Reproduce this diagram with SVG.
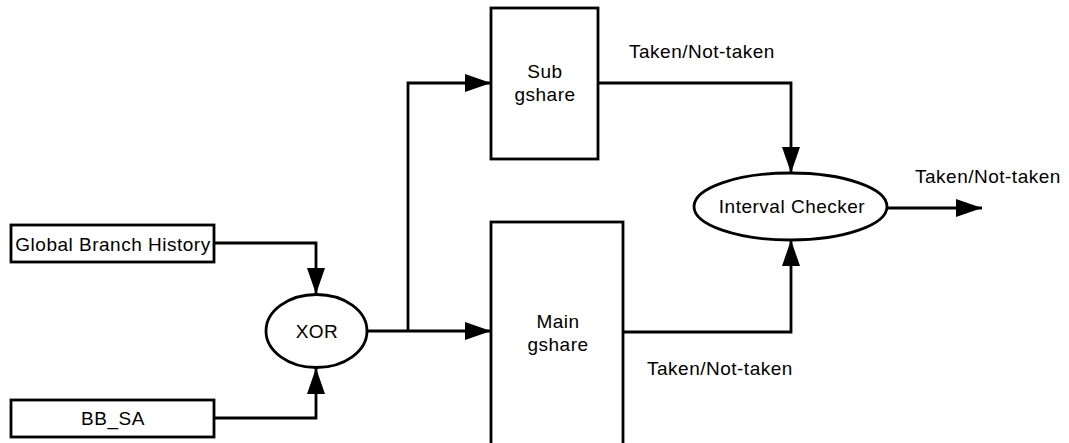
<svg xmlns="http://www.w3.org/2000/svg" width="1069" height="443" viewBox="0 0 1069 443">
<style>
.n{fill:#fff;stroke:#000;stroke-width:2.8}
.t{font-family:"Liberation Sans",Arial,sans-serif;font-size:19px;fill:#000;letter-spacing:0.5px}
.c{text-anchor:middle}
.e{fill:none;stroke:#000;stroke-width:2.8;marker-end:url(#ah)}
</style>
<defs>
<marker id="ah" viewBox="0 0 26 18" refX="26" refY="9" markerWidth="26" markerHeight="18" markerUnits="userSpaceOnUse" orient="auto">
<path d="M0,0 L26,9 L0,18 z" fill="#000"/>
</marker>
</defs>
<rect width="1069" height="443" fill="#fff"/>
<g id="connectors">
<path class="e" d="M214,243 H316 V294"/>
<path class="e" d="M214,418 H316 V368"/>
<path class="e" d="M367,331 H491"/>
<path class="e" d="M408,331 V83 H491"/>
<path class="e" d="M598,83 H791 V173"/>
<path class="e" d="M623,332 H791 V240"/>
<path class="e" d="M887,208 H982"/>
</g>
<g id="gbh">
<rect class="n" x="11" y="225" width="203" height="37"/>
<text class="t c" x="113" y="251">Global Branch History</text>
</g>
<g id="bbsa">
<rect class="n" x="11" y="400" width="203" height="37"/>
<text class="t c" x="113" y="425">BB_SA</text>
</g>
<g id="xor">
<ellipse class="n" cx="316.5" cy="331" rx="50.5" ry="36.5"/>
<text class="t c" x="317" y="338">XOR</text>
</g>
<g id="sub">
<rect class="n" x="491" y="8" width="107" height="151"/>
<text class="t c" x="545" y="78">Sub</text>
<text class="t c" x="545" y="101">gshare</text>
</g>
<g id="main">
<rect class="n" x="491" y="222" width="132" height="240"/>
<text class="t c" x="558" y="328">Main</text>
<text class="t c" x="558" y="351">gshare</text>
</g>
<g id="ic">
<ellipse class="n" cx="790.5" cy="206.5" rx="96.5" ry="33.5"/>
<text class="t c" x="792" y="213">Interval Checker</text>
</g>
<g id="labels">
<text class="t" x="629" y="58">Taken/Not-taken</text>
<text class="t" x="915" y="183">Taken/Not-taken</text>
<text class="t" x="647" y="375">Taken/Not-taken</text>
</g>
</svg>
